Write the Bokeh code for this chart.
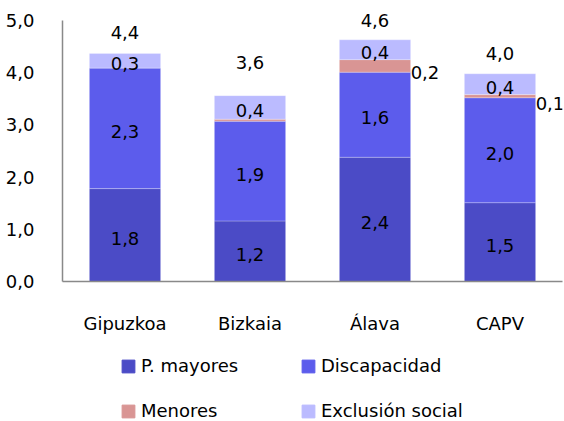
import numpy as np
from bokeh.plotting import figure
from bokeh.layouts import column
from bokeh.models import (ColumnDataSource, FactorRange, Range1d, FixedTicker,
                          CustomJSTickFormatter, Legend, LegendItem, LabelSet)
from bokeh.core.properties import value
from bokeh.embed import file_html
from bokeh.resources import INLINE

regions = ["Gipuzkoa", "Bizkaia", "Álava", "CAPV"]
series = ["P. mayores", "Discapacidad", "Menores", "Exclusión social"]
p_mayores = [1.78, 1.16, 2.38, 1.51]
discapacidad = [2.31, 1.91, 1.63, 2.01]
menores = [0.00, 0.04, 0.24, 0.06]
exclusion = [0.28, 0.45, 0.38, 0.40]
totals = ["4,4", "3,6", "4,6", "4,0"]
colors = ["#4B4BC6", "#5C5CEC", "#D99594", "#BBBBFF"]
y_ticks = [0, 1, 2, 3, 4, 5]
y_max = 5.0

FONT = "DejaVu Sans"
FS = "18px"

data = {"x": regions, "a": p_mayores, "b": discapacidad, "c": menores, "d": exclusion}
src = ColumnDataSource(data)

p = figure(x_range=FactorRange(*regions, range_padding=0),
           y_range=Range1d(0, y_max * 273 / 261),
           frame_width=500, frame_height=273, output_backend="svg", toolbar_location=None,
           min_border_left=62, min_border_right=2, min_border_top=8,
           min_border_bottom=52)
p.outline_line_color = None
p.xgrid.grid_line_color = None
p.ygrid.grid_line_color = None

rs = p.vbar_stack(["a", "b", "c", "d"], x="x", width=0.57, color=colors,
                  line_color="white", line_alpha=0.25, line_width=1, source=src)

vals = np.array([p_mayores, discapacidad, menores, exclusion])
cum = np.cumsum(vals, axis=0)
mids = cum - vals / 2

def fmt(v):
    return ("%.1f" % round(v, 1)).replace(".", ",")

# in-bar labels
lx, ly, lt = [], [], []
for s in [0, 1, 3]:
    for i, r in enumerate(regions):
        lx.append(r); ly.append(mids[s, i]); lt.append(fmt(vals[s, i]))
p.text(x=lx, y=ly, text=lt, text_align="center", text_baseline="middle",
       text_font=value(FONT), text_font_size=FS, text_color="black", y_offset=3)

# menores labels to the right of the bars
mx, my, mt = [], [], []
for i, r in enumerate(regions):
    if menores[i] >= 0.05:
        mx.append((r, 0.285)); my.append(mids[2, i]); mt.append(fmt(menores[i]))
p.text(x=mx, y=my, text=mt, text_align="left", text_baseline="middle",
       text_font=value(FONT), text_font_size=FS, text_color="black", x_offset=0, y_offset=7)

# totals above the bars
tsrc = ColumnDataSource({"x": regions, "y": cum[3].tolist(), "t": totals,
                         "dy": [21, 33, 19, 20]})
p.add_layout(LabelSet(x="x", y="y", text="t", source=tsrc, y_offset="dy",
                      text_align="center", text_baseline="middle",
                      text_font=value(FONT), text_font_size=FS, text_color="black"))

p.yaxis.ticker = FixedTicker(ticks=y_ticks)
p.yaxis.bounds = (0, y_max)
p.yaxis.formatter = CustomJSTickFormatter(code="return tick.toFixed(1).replace('.', ',');")
for ax in (p.xaxis[0], p.yaxis[0]):
    ax.axis_line_color = "#898989"
    ax.axis_line_width = 1.5
    ax.major_tick_line_color = None
    ax.minor_tick_line_color = None
    ax.major_label_text_font = FONT
    ax.major_label_text_font_size = FS
    ax.major_label_text_color = "black"
p.yaxis.major_label_standoff = 22
p.xaxis.major_label_standoff = 25

# legend in its own strip below the chart (swatches only; their points lie off-range)
lg = figure(frame_width=500, frame_height=88, output_backend="svg", toolbar_location=None,
            x_range=(0, 1), y_range=(0, 1), min_border_left=62, min_border_right=2,
            min_border_top=0, min_border_bottom=0)
lg.axis.visible = False
lg.grid.visible = False
lg.outline_line_color = None
dummies = [lg.vbar(x=[-5], top=[-5], bottom=[-6], width=1, color=c) for c in colors]
legend = Legend(items=[LegendItem(label=s, renderers=[r]) for s, r in zip(series, dummies)],
                ncols=2, location=(58, 3), orientation="horizontal",
                glyph_width=16, glyph_height=16, label_standoff=5,
                label_width=135, label_height=21, spacing=24,
                label_text_font=FONT, label_text_font_size=FS, label_text_color="black",
                border_line_color=None, background_fill_alpha=0, padding=0, margin=0)
lg.add_layout(legend, "center")

open("out.html", "w").write(file_html(column(p, lg, spacing=0), INLINE))
